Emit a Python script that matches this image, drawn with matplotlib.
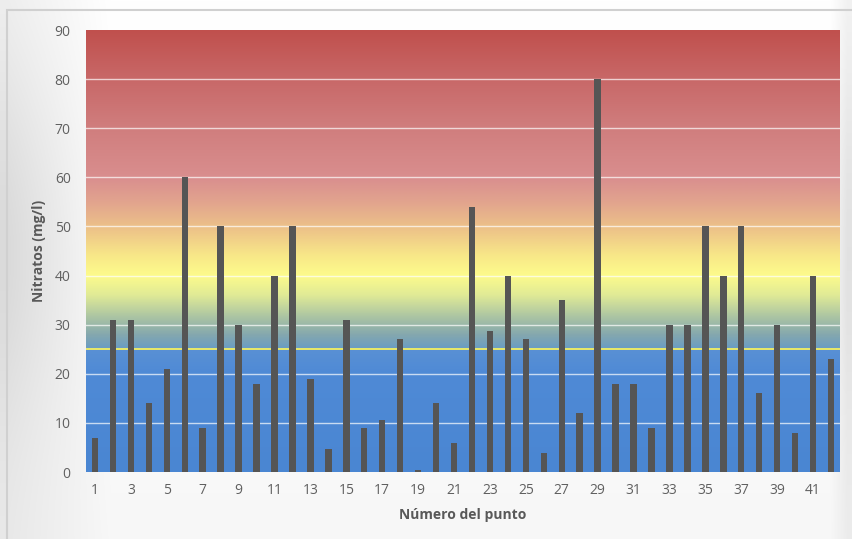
import numpy as np
import matplotlib
matplotlib.use("Agg")
import matplotlib.pyplot as plt
from matplotlib.colors import LinearSegmentedColormap, to_rgb
from matplotlib.patches import Rectangle

# ---- data ----
points = list(range(1, 43))
nitrates = [7, 31, 31, 14, 21, 60, 9, 50, 30, 18,
            40, 50, 19, 4.6, 31, 9, 10.5, 27, 0.5, 14,
            6, 54, 28.7, 40, 27, 3.8, 35, 12, 80, 18,
            18, 9, 30, 30, 50, 40, 50, 16, 30, 8,
            40, 23]
xtick_labels = [str(i) for i in range(1, 43, 2)]
yticks = list(range(0, 91, 10))
threshold = 25
ymax = 90

plt.rcParams['font.family'] = ['Open Sans', 'DejaVu Sans']

fig = plt.figure(figsize=(8.52, 5.39), dpi=100)
fig.patch.set_facecolor('white')

# figure background gradient (subtle grey)
bg = fig.add_axes([0, 0, 1, 1], zorder=-10)
bg.set_axis_off()
W, H = 852, 539
xx = np.linspace(0, 1, W)[None, :]
yy = np.linspace(0, 1, H)[:, None]
left = np.clip(1 - (xx - 0.01) / 0.12, 0, 1) * 0.13
right = np.clip((xx - 0.975) / 0.02, 0, 1) * 0.10
vert = 0.4 + 0.6 * np.exp(-((yy - 0.45) / 0.35) ** 2)
shade = (left + right) * vert + 0.03 * yy
img = np.clip(1 - shade, 0, 1)
rgb = np.dstack([img, img, img])
bg.imshow(rgb, extent=[0, 1, 0, 1], aspect='auto', origin='upper')
bg.set_xlim(0, 1)
bg.set_ylim(0, 1)
bg.add_patch(Rectangle((7 / W, -0.01), 1.0, 1 - 10 / H + 0.01, fill=False,
                       edgecolor='#D0D0D0', linewidth=1.5, transform=bg.transAxes))

ax = fig.add_axes([86 / W, 1 - 472 / H, (840 - 86) / W, (472 - 30) / H])

# plot area gradient
stops = [
    (0.0, '#4A86D2'),
    (20.0, '#4F8AD6'),
    (24.9, '#5990D4'),
    (25.1, '#6A9CC4'),
    (28.0, '#85A8AE'),
    (32.0, '#B0C8A2'),
    (36.0, '#E0EA96'),
    (40.0, '#FDFB8C'),
    (44.0, '#F8E888'),
    (49.0, '#EEC688'),
    (55.0, '#E2A48E'),
    (60.0, '#D98E8E'),
    (70.0, '#D07E7E'),
    (80.0, '#C86868'),
    (90.0, '#C0504D'),
]
cmap = LinearSegmentedColormap.from_list('nit', [(v / ymax, to_rgb(c)) for v, c in stops], N=1024)
grad = np.linspace(0, ymax, 900)[:, None]
ax.imshow(grad, extent=[0.5, len(points) + 0.5, 0, ymax], origin='lower',
          aspect='auto', cmap=cmap, vmin=0, vmax=ymax, zorder=0, interpolation='bilinear')

for y in yticks[1:-1]:
    ax.axhline(y, color='white', linewidth=1.0, alpha=0.7, zorder=1)
ax.axhline(threshold, color='#F4F060', linewidth=1.3, zorder=1.5)

ax.bar(points, nitrates, width=0.36, color='#555555', zorder=2)

ax.set_xlim(0.5, len(points) + 0.5)
ax.set_ylim(0, ymax)
ax.set_yticks(yticks)
ax.set_xticks(list(range(1, 43, 2)))
ax.set_xticklabels(xtick_labels)
for s in ax.spines.values():
    s.set_visible(False)
ax.tick_params(axis='both', length=0, colors='#606060', labelsize=10)
ax.tick_params(axis='y', pad=11)
ax.tick_params(axis='x', pad=8)
ax.set_ylabel('Nitratos (mg/l)', fontsize=10, fontweight='bold', color='#595959', labelpad=6)
ax.set_xlabel('Número del punto', fontsize=10, fontweight='bold', color='#595959', labelpad=7)

fig.savefig('out.png', dpi=100)
